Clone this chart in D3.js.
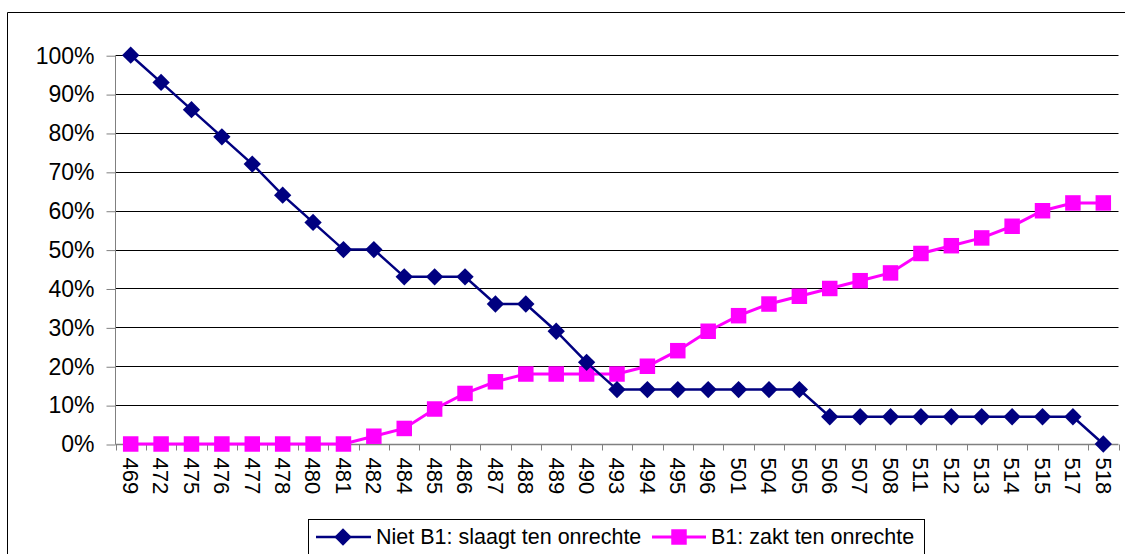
<!DOCTYPE html>
<html>
<head>
<meta charset="utf-8">
<script src="https://cdn.jsdelivr.net/npm/d3@7"></script>
<style>
body { margin:0; background:#fff; }
</style>
</head>
<body>
<div id="main"></div>
<script>
// cesuurpunten op de x-as
const scores = ["469","472","475","476","477","478","480","481","482","484","485","486","487","488","489","490","493","494","495","496","501","504","505","506","507","508","511","512","513","514","515","517","518"]

// Niet B1: slaagt ten onrechte (%)
const nietB1 = [100,93,86,79,72,64,57,50,50,43,43,43,36,36,29,21,14,14,14,14,14,14,14,7,7,7,7,7,7,7,7,7,0]

// B1: zakt ten onrechte (%)
const welB1 = [0,0,0,0,0,0,0,0,2,4,9,13,16,18,18,18,18,20,24,29,33,36,38,40,42,44,49,51,53,56,60,62,62]

const yTicks = [0,10,20,30,40,50,60,70,80,90,100]

const legendNames = ["Niet B1: slaagt ten onrechte","B1: zakt ten onrechte"]

const ctx = {}

function initViz()
{
    let svg = d3.select("#main").append("svg")
    .attr("width",1125)
    .attr("height",554)
    .style("font-family","Arial, 'Liberation Sans', sans-serif")

    // rand om de grafiek
    svg.append("path")
    .attr("d","M7.5,554 V12.5 H1125")
    .attr("fill","none")
    .attr("stroke","#000")
    .attr("stroke-width",1)

    ctx.xScale = d3.scaleBand()
    .domain(scores)
    .range([115.5,1118.5])

    ctx.yScale = d3.scaleLinear()
    .domain([0,100])
    .range([444,55.2])

    // horizontale rasterlijnen
    svg.selectAll(".grid")
    .data(yTicks.filter(d => d > 0))
    .enter()
    .append("line")
    .attr("class","grid")
    .attr("x1",115.5)
    .attr("x2",1118.5)
    .attr("y1",d => Math.round(ctx.yScale(d)) + 0.5)
    .attr("y2",d => Math.round(ctx.yScale(d)) + 0.5)
    .attr("stroke","#000")
    .attr("stroke-width",1)

    // y-as
    let yAxis = svg.append("g")
    .attr("transform","translate(115.5,0.5)")
    .call(d3.axisLeft(ctx.yScale).tickValues(yTicks).tickSize(9).tickPadding(12).tickFormat(d => d + "%"))
    yAxis.select(".domain").attr("stroke","#808080").attr("d","M0," + Math.round(ctx.yScale(100)) + "V" + Math.round(ctx.yScale(0)))
    yAxis.selectAll(".tick line").attr("stroke","#808080")
    yAxis.selectAll("text").style("font-size","23px").attr("fill","#000")

    // x-as
    let xAxis = svg.append("g")
    .attr("transform","translate(0," + (Math.round(ctx.yScale(0)) + 0.5) + ")")
    xAxis.append("line")
    .attr("x1",115.5)
    .attr("x2",1118.5)
    .attr("stroke","#808080")
    .attr("stroke-width",1.5)

    let grenzen = scores.map(d => ctx.xScale(d)).concat([ctx.xScale.range()[1]])
    xAxis.selectAll(".xtick")
    .data(grenzen)
    .enter()
    .append("line")
    .attr("class","xtick")
    .attr("x1",d => Math.round(d) + 0.5)
    .attr("x2",d => Math.round(d) + 0.5)
    .attr("y1",0)
    .attr("y2",6)
    .attr("stroke","#808080")

    xAxis.selectAll(".xlabel")
    .data(scores)
    .enter()
    .append("text")
    .attr("class","xlabel")
    .attr("transform",d => "translate(" + (ctx.xScale(d) + ctx.xScale.bandwidth()/2) + ",13) rotate(90)")
    .attr("dy","0.35em")
    .attr("text-anchor","start")
    .style("font-size","22px")
    .text(d => d)

    let xPos = (d,i) => ctx.xScale(scores[i]) + ctx.xScale.bandwidth()/2

    let lineGenerator = d3.line()
    .x(xPos)
    .y(d => ctx.yScale(d))

    let diamond = d3.symbol(d3.symbolSquare,150)
    let square = d3.symbol(d3.symbolSquare,240)

    // B1: zakt ten onrechte
    svg.append("path")
    .datum(welB1)
    .attr("fill","none")
    .attr("stroke","#FF00FF")
    .attr("stroke-width",3)
    .attr("d",lineGenerator)

    svg.selectAll(".sq")
    .data(welB1)
    .enter()
    .append("path")
    .attr("class","sq")
    .attr("d",square)
    .attr("fill","#FF00FF")
    .attr("transform",(d,i) => "translate(" + xPos(d,i) + "," + ctx.yScale(d) + ")")

    // Niet B1: slaagt ten onrechte
    svg.append("path")
    .datum(nietB1)
    .attr("fill","none")
    .attr("stroke","#000080")
    .attr("stroke-width",2.5)
    .attr("d",lineGenerator)

    svg.selectAll(".dia")
    .data(nietB1)
    .enter()
    .append("path")
    .attr("class","dia")
    .attr("d",diamond)
    .attr("fill","#000080")
    .attr("transform",(d,i) => "translate(" + xPos(d,i) + "," + ctx.yScale(d) + ") rotate(45)")

    // legenda
    let legend = svg.append("g")
    legend.append("rect")
    .attr("x",308.5)
    .attr("y",519.5)
    .attr("width",616)
    .attr("height",60)
    .attr("fill","#fff")
    .attr("stroke","#000")

    legend.append("line")
    .attr("x1",316).attr("x2",371).attr("y1",537).attr("y2",537)
    .attr("stroke","#000080").attr("stroke-width",2.5)
    legend.append("path")
    .attr("d",diamond)
    .attr("fill","#000080")
    .attr("transform","translate(343,537) rotate(45)")
    legend.append("text")
    .attr("x",376).attr("y",544)
    .style("font-size","21.5px")
    .text(legendNames[0])

    legend.append("line")
    .attr("x1",652).attr("x2",706).attr("y1",537).attr("y2",537)
    .attr("stroke","#FF00FF").attr("stroke-width",3)
    legend.append("path")
    .attr("d",square)
    .attr("fill","#FF00FF")
    .attr("transform","translate(679,537)")
    legend.append("text")
    .attr("x",711).attr("y",544)
    .style("font-size","21.5px")
    .text(legendNames[1])
}

initViz()
</script>
</body>
</html>
